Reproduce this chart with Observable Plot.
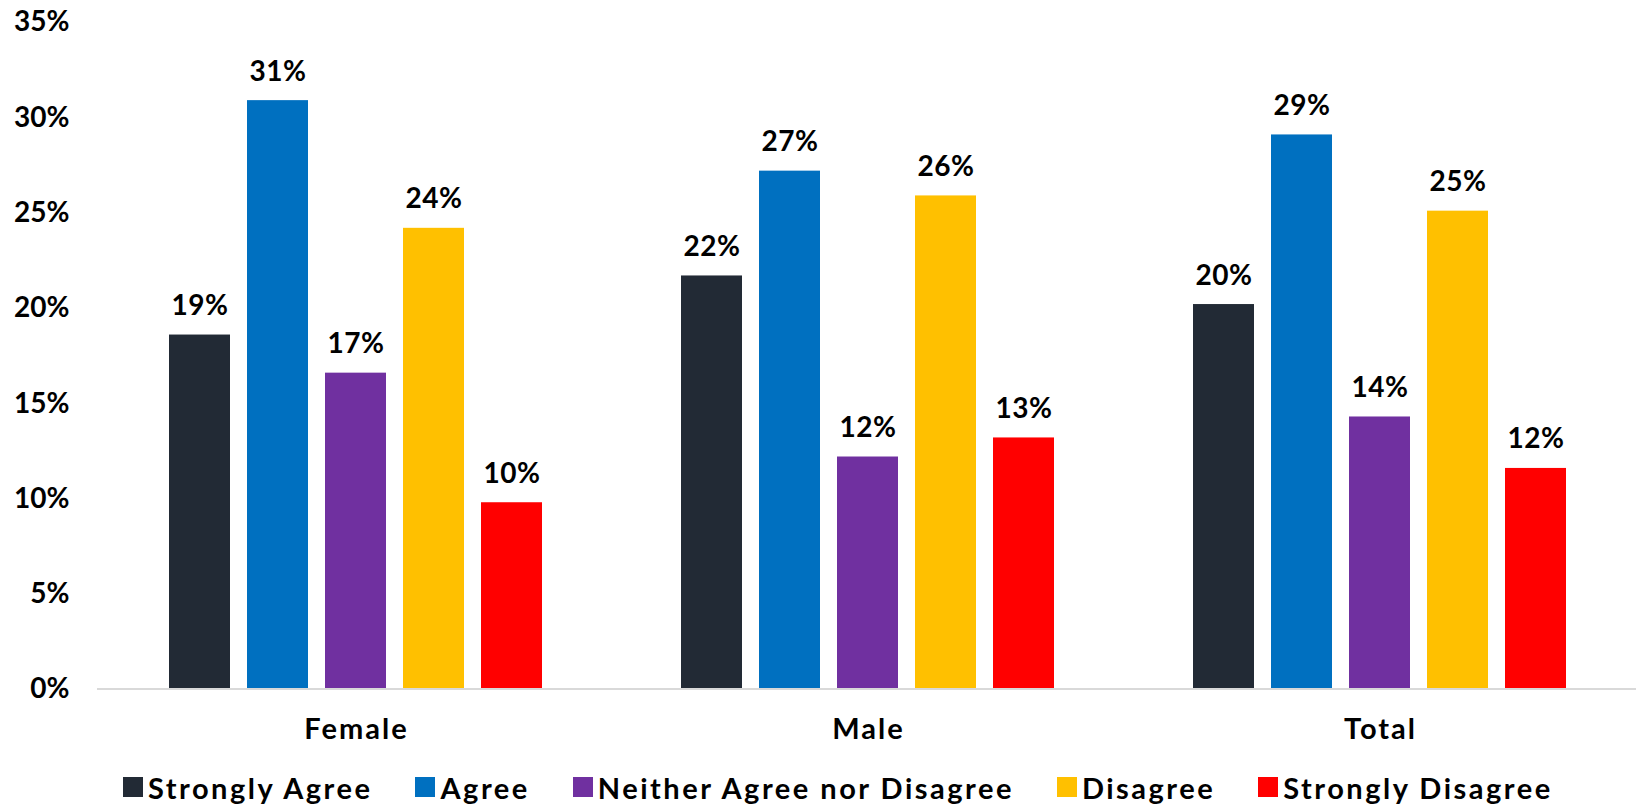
<!DOCTYPE html>
<html>
<head>
<meta charset="utf-8">
<script src="https://cdn.jsdelivr.net/npm/d3@7"></script>
<script src="https://cdn.jsdelivr.net/npm/@observablehq/plot@0.6"></script>
<style>
  html, body { margin: 0; padding: 0; background: #fff; }
  body { width: 1637px; height: 806px; overflow: hidden; font-family: Lato, sans-serif; font-weight: 700; }
  #legend { display: flex; align-items: center; height: 54px; padding-left: 123px; font-size: 29px; letter-spacing: 2.5px; color: #000; white-space: nowrap; }
  .item { display: flex; align-items: center; margin-right: 43px; }
  .sw { width: 20px; height: 20px; margin-right: 5px; }
  svg .fxlab text { letter-spacing: 2px; }
  svg .vlab text { letter-spacing: 0.6px; }
</style>
</head>
<body>
<div id="chart"></div>
<div id="legend"></div>
<script>
const groups = ["Female", "Male", "Total"];
const categories = ["Strongly Agree", "Agree", "Neither Agree nor Disagree", "Disagree", "Strongly Disagree"];
const female = [18.6, 30.9, 16.6, 24.2, 9.8];
const male = [21.7, 27.2, 12.2, 25.9, 13.2];
const total = [20.2, 29.1, 14.3, 25.1, 11.6];
const colors = ["#222A35", "#0070C0", "#7030A0", "#FFC000", "#FF0000"];
const yTicks = [0, 5, 10, 15, 20, 25, 30, 35];

const series = [female, male, total];
const data = [];
groups.forEach((g, gi) => categories.forEach((c, ci) => data.push({group: g, category: c, value: series[gi][ci]})));

const W = 1637, H = 760, ML = 99, MR = 1;
const chart = Plot.plot({
  width: W,
  height: H,
  marginLeft: ML,
  marginRight: MR,
  marginTop: 22,
  marginBottom: 71,
  style: {fontFamily: "Lato, sans-serif", fontWeight: 700, fontSize: "26px", color: "#000", background: "#fff"},
  fx: {domain: groups, paddingInner: 0.266, paddingOuter: 0.133, label: null},
  x: {domain: categories, paddingInner: 0.213, paddingOuter: 0, axis: null},
  y: {domain: [0, 35], label: null},
  color: {domain: categories, range: colors},
  marks: [
    Plot.axisY({ticks: yTicks, tickSize: 0, tickPadding: 99, tickFormat: d => d + "%", label: null, fontSize: 28}),
    Plot.axisFx({anchor: "bottom", tickSize: 0, tickPadding: 29, label: null, fontSize: 29, className: "fxlab"}),
    Plot.barY(data, {fx: "group", x: "category", y: "value", fill: "category"}),
    Plot.text(data, {fx: "group", x: "category", y: "value", text: d => Math.round(d.value) + "%", dy: -29, fill: "#000", fontSize: 28, className: "vlab"})
  ]
});
// continuous baseline across all facets, positioned by the y scale
const y0 = chart.scale("y").apply(0);
d3.select(chart).append("line")
  .attr("x1", ML - 2).attr("x2", W - MR)
  .attr("y1", y0).attr("y2", y0)
  .attr("stroke", "#D9D9D9").attr("stroke-width", 2);
document.getElementById("chart").appendChild(chart);

const legend = document.getElementById("legend");
categories.forEach((c, i) => {
  const item = document.createElement("div");
  item.className = "item";
  const sw = document.createElement("div");
  sw.className = "sw";
  sw.style.background = colors[i];
  const lab = document.createElement("span");
  lab.textContent = c;
  item.appendChild(sw);
  item.appendChild(lab);
  legend.appendChild(item);
});
</script>
</body>
</html>
